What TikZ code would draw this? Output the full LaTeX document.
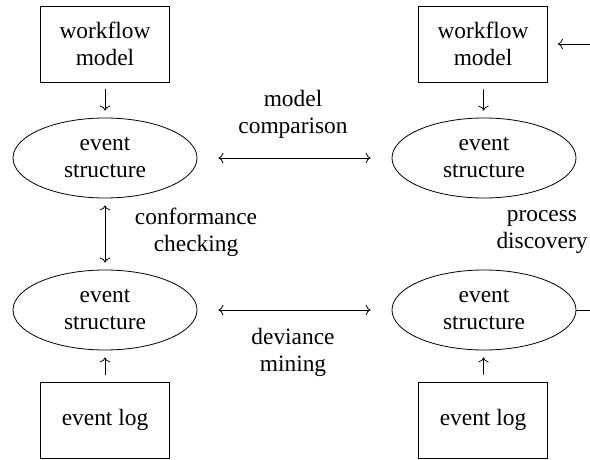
\documentclass[tikz,border=0pt]{standalone}
\usepackage{fontspec}
\setmainfont{Liberation Serif}
\usetikzlibrary{arrows.meta,shapes.geometric,positioning}

\begin{document}
\begin{tikzpicture}[
    x=0.5pt, y=-0.5pt,
    every node/.style={font=\fontsize{11.7}{13.5}\selectfont, align=center},
    box/.style={draw, minimum width=64.5pt, minimum height=38pt, inner sep=0pt},
    evt/.style={draw, ellipse, minimum width=92pt, minimum height=40pt, inner sep=0pt},
    arr/.style={-{To}, shorten >=3.5pt, shorten <=3.5pt},
    darr/.style={{To}-{To}, shorten >=3.5pt, shorten <=3.5pt},
    harr/.style={{To}-{To}, shorten >=10.5pt, shorten <=10.5pt}
]
\path[use as bounding box, clip] (0,0) rectangle (590,460);

\node[box] (wfl) at (105,44) {workflow\\model};
\node[evt] (esl) at (105,158) {event\\structure};
\node[evt] (lsl) at (105,310) {event\\structure};
\node[box] (logl) at (105,420) {event log};

\node[box] (wfr) at (483,44) {workflow\\model};
\node[evt] (esr) at (484,158) {event\\structure};
\node[evt] (lsr) at (484,310) {event\\structure};
\node[box] (logr) at (483,420) {event log};

\node (cmp) at (293,114) {model\\comparison};
\node (conf) at (196,232) {conformance\\checking};
\node (dev) at (293,352) {deviance\\mining};
\node (disc) at (542,232) {process\\discovery};

\coordinate (cbot) at (612,310);
\coordinate (ctop) at (612,44);

\draw[arr] (wfl) -- (esl);
\draw[arr] (logl) -- (lsl);
\draw[darr] (esl) -- (lsl);
\draw[arr] (wfr) -- (esr);
\draw[arr] (logr) -- (lsr);
\draw[harr] (esl) -- (esr);
\draw[harr] (lsl) -- (lsr);
\draw[-{To}, shorten >=5pt] (lsr.east) -- (cbot) -- (ctop) -- (wfr);
\end{tikzpicture}
\end{document}
